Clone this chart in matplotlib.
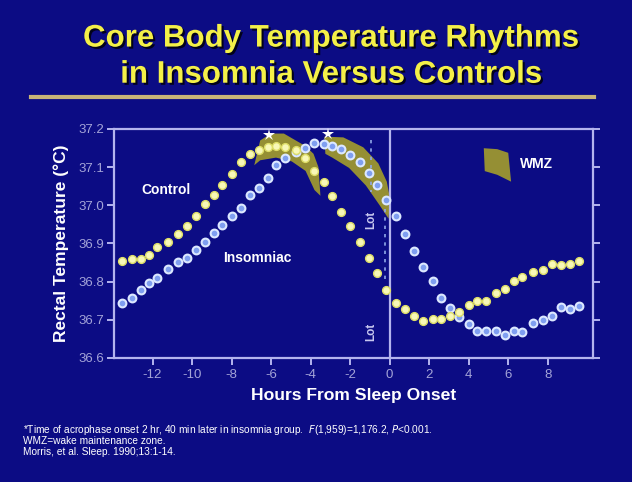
import matplotlib
matplotlib.use("Agg")
import matplotlib.pyplot as plt
import matplotlib.patheffects as pe
from matplotlib.patches import Polygon

# ---------------- data ----------------
hours = [-13.54, -13.05, -12.60, -12.18, -11.79, -11.23, -10.72, -10.27, -9.78, -9.36,
         -8.90, -8.47, -7.99, -7.52, -7.08, -6.59, -6.14, -5.73, -5.29, -4.76,
         -4.28, -3.80, -3.32, -2.89, -2.44, -1.98, -1.51, -1.04, -0.63, -0.17,
         0.33, 0.79, 1.26, 1.71, 2.18, 2.62, 3.06, 3.50, 4.00, 4.45,
         4.90, 5.39, 5.85, 6.30, 6.73, 7.26, 7.77, 8.22, 8.66, 9.12, 9.58]

control = [36.854, 36.859, 36.859, 36.869, 36.892, 36.903, 36.924, 36.947, 36.972, 37.003,
           37.027, 37.053, 37.082, 37.114, 37.135, 37.145, 37.154, 37.155, 37.153, 37.144,
           37.124, 37.091, 37.060, 37.025, 36.982, 36.946, 36.903, 36.861, 36.822, 36.778,
           36.745, 36.729, 36.710, 36.698, 36.701, 36.701, 36.710, 36.720, 36.740, 36.748,
           36.749, 36.770, 36.781, 36.802, 36.812, 36.824, 36.830, 36.845, 36.844, 36.846, 36.854]

insomniac = [36.745, 36.758, 36.778, 36.796, 36.809, 36.832, 36.852, 36.861, 36.883, 36.905,
             36.927, 36.948, 36.972, 36.992, 37.027, 37.045, 37.071, 37.106, 37.123, 37.140,
             37.149, 37.162, 37.161, 37.156, 37.148, 37.132, 37.113, 37.084, 37.053, 37.014,
             36.973, 36.924, 36.880, 36.839, 36.802, 36.758, 36.732, 36.708, 36.688, 36.672,
             36.672, 36.671, 36.660, 36.672, 36.669, 36.691, 36.700, 36.711, 36.733, 36.728, 36.737]

# wake maintenance zones (outline: upper edge left->right, lower edge right->left)
wmz1_hours = [-6.55, -6.00, -5.35, -4.75, -4.25, -3.85, -3.60, -3.50,
              -3.80, -4.25, -4.95, -5.75, -6.55, -6.85]
wmz1_temps = [37.170, 37.188, 37.188, 37.170, 37.155, 37.135, 37.100, 37.025,
              37.040, 37.090, 37.115, 37.125, 37.118, 37.105]
wmz2_hours = [-3.30, -2.34, -1.33, -0.57, -0.14, 0.03, -0.05,
              -0.50, -1.20, -2.05, -2.90, -3.25]
wmz2_temps = [37.180, 37.178, 37.152, 37.110, 37.062, 37.016, 36.965,
              37.000, 37.052, 37.098, 37.125, 37.135]

acrophase_hours = [-6.09, -3.10]
acrophase_temps = [37.184, 37.187]

xticks = [-12, -10, -8, -6, -4, -2, 0, 2, 4, 6, 8]
yticks = [36.6, 36.7, 36.8, 36.9, 37.0, 37.1, 37.2]

# ---------------- style ----------------
BG = '#0c0c84'
FRAME = '#b4b4ee'
TICKC = '#a4a4d8'
WMZC = '#958f34'

plt.rcParams['font.family'] = ['Liberation Sans', 'DejaVu Sans']

fig = plt.figure(figsize=(6.32, 4.82), dpi=100, facecolor=BG)
ax = fig.add_axes([0.1804, 0.2573, 0.7579, 0.4751])
ax.set_facecolor(BG)

ax.set_xlim(-13.95, 10.30)
ax.set_ylim(36.6, 37.2)

for s in ax.spines.values():
    s.set_color(FRAME)
    s.set_linewidth(1.6)

ax.set_xticks(xticks)
ax.set_xticklabels([str(t) for t in xticks])
ax.set_yticks(yticks)
ax.set_yticklabels([f"{t:.1f}" for t in yticks])
ax.tick_params(axis='both', colors=FRAME, labelcolor=TICKC, labelsize=9.5,
               length=5, width=1.4, direction='out')
ax.tick_params(axis='y', right=True, pad=2)
ax.tick_params(axis='x', pad=3)

# WMZ bands
for hx, ty in ((wmz1_hours, wmz1_temps), (wmz2_hours, wmz2_temps)):
    ax.add_patch(Polygon(list(zip(hx, ty)), closed=True, facecolor=WMZC,
                         edgecolor='none', zorder=2))

# sleep onset line
ax.axvline(0, color=FRAME, lw=1.6, zorder=3)

# lights-off dashed markers
ax.plot([-0.93, -0.93], [37.172, 37.035], ls=(0, (2, 3)), color='#8fa8e8', lw=1.2, zorder=3)
ax.plot([-0.23, -0.23], [36.99, 36.80], ls=(0, (2, 3)), color='#8fa8e8', lw=1.2, zorder=3)
ax.text(-0.93, 36.962, 'Lot', rotation=90, ha='center', va='center',
        color='#c8c8f0', fontsize=8.5, fontweight='bold', zorder=4)
ax.text(-0.93, 36.668, 'Lot', rotation=90, ha='center', va='center',
        color='#c8c8f0', fontsize=8.5, fontweight='bold', zorder=4)

# series
ax.plot(hours, insomniac, ls='none', marker='o', ms=5.6,
        markerfacecolor='#7f9ff0', markeredgecolor='#dce8ff', markeredgewidth=1.5, zorder=5)
ax.plot(hours, control, ls='none', marker='o', ms=5.6,
        markerfacecolor='#f8f8b8', markeredgecolor='#dede68', markeredgewidth=1.0, zorder=5)

ax.plot(acrophase_hours, acrophase_temps, ls='none', marker='*', ms=9,
        color='white', markeredgewidth=0, zorder=6, clip_on=False)

# series labels
ax.text(-11.3, 37.04, 'Control', color='white', fontsize=10, fontweight='bold',
        ha='center', va='center')
ax.text(-6.7, 36.862, 'Insomniac', color='white', fontsize=10, fontweight='bold',
        ha='center', va='center')

# WMZ legend
leg = Polygon([(0.772, 0.916), (0.800, 0.912), (0.823, 0.896), (0.829, 0.770),
               (0.800, 0.800), (0.774, 0.816)],
              closed=True, transform=ax.transAxes, facecolor=WMZC, edgecolor='none')
ax.add_patch(leg)
ax.text(0.848, 0.845, 'WMZ', transform=ax.transAxes, color='white', fontsize=10,
        fontweight='bold', ha='left', va='center')

ax.set_xlabel('Hours From Sleep Onset', color='white', fontsize=12.6,
              fontweight='bold', labelpad=5)
ax.set_ylabel('Rectal Temperature (°C)', color='white', fontsize=12.5,
              fontweight='bold', labelpad=7)

# title
shadow = [pe.withSimplePatchShadow(offset=(1.5, -1.5), shadow_rgbFace='black', alpha=0.8)]
fig.text(0.524, 0.920, 'Core Body Temperature Rhythms', color='#f4f048', fontsize=22.5,
         fontweight='bold', ha='center', va='center', path_effects=shadow)
fig.text(0.524, 0.845, 'in Insomnia Versus Controls', color='#f4f048', fontsize=22.5,
         fontweight='bold', ha='center', va='center', path_effects=shadow)
fig.add_artist(plt.Line2D([0.049, 0.940], [0.798, 0.798], transform=fig.transFigure,
                          color='#c8b478', lw=3))

# footnotes
fs = 7.3
fig.text(0.036, 0.108,
         r'*Time of acrophase onset 2 hr, 40 min later in insomnia group.  $\it{F}$(1,959)=1,176.2, $\it{P}$<0.001.',
         color='white', fontsize=fs, ha='left', va='center')
fig.text(0.036, 0.085, 'WMZ=wake maintenance zone.', color='white', fontsize=fs,
         ha='left', va='center')
fig.text(0.036, 0.063, 'Morris, et al. Sleep. 1990;13:1-14.', color='white', fontsize=fs,
         ha='left', va='center')

fig.savefig('out.png', dpi=100, facecolor=BG)
